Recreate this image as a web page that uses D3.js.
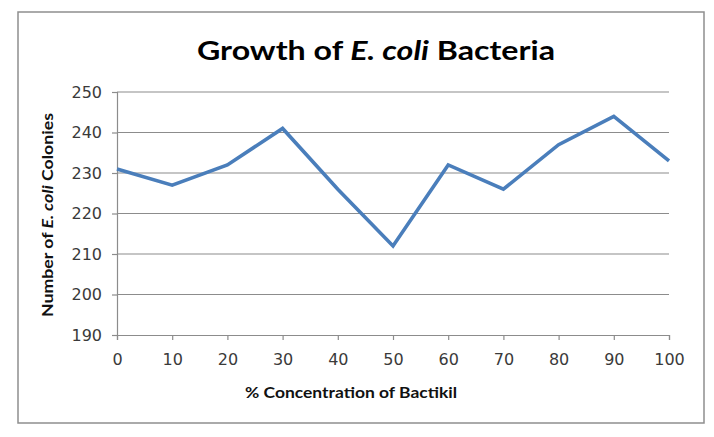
<!DOCTYPE html>
<html><head><meta charset="utf-8">
<script src="https://cdn.jsdelivr.net/npm/d3@7"></script>
<style>body{margin:0;background:#fff}svg{display:block}</style>
</head><body>
<svg id="c" width="714" height="437"></svg>
<script>
const concentrations = [0,10,20,30,40,50,60,70,80,90,100];
const colonies = [231,227,232,241,226,212,232,226,237,244,233];
const yTicks = [190,200,210,220,230,240,250];
const xTicks = [0,10,20,30,40,50,60,70,80,90,100];

const svg = d3.select("#c");
const W = 714, H = 437;
svg.append("rect").attr("x",0).attr("y",0).attr("width",W).attr("height",H).attr("fill","#fff");
svg.append("rect").attr("x",18).attr("y",12).attr("width",686).attr("height",411)
  .attr("fill","#fff").attr("stroke","#8e8e8e").attr("stroke-width",1.5);

const x = d3.scaleLinear().domain([0,100]).range([117,669]);
const y = d3.scaleLinear().domain([190,250]).range([335,92]);

// gridlines
svg.append("g").selectAll("line").data(yTicks.filter(d=>d>190)).join("line")
  .attr("x1",x(0)).attr("x2",x(100)).attr("y1",d=>y(d)).attr("y2",d=>y(d))
  .attr("stroke","#8c8c8c").attr("stroke-width",1.2);

const tickFont = "'DejaVu Sans', Verdana, sans-serif";
// y axis
const gy = svg.append("g").attr("transform",`translate(${x(0)},0)`)
  .call(d3.axisLeft(y).tickValues(yTicks).tickSize(5).tickPadding(10).tickFormat(d3.format("d")));
// x axis
const gx = svg.append("g").attr("transform",`translate(0,${y(190)})`)
  .call(d3.axisBottom(x).tickValues(xTicks).tickSize(5).tickPadding(14).tickFormat(d3.format("d")));
[gx,gy].forEach(g=>{
  g.select(".domain").attr("stroke","#8c8c8c").attr("stroke-width",1.2);
  g.selectAll(".tick line").attr("stroke","#8c8c8c").attr("stroke-width",1.2);
  g.selectAll(".tick text").attr("fill","#3a3a3a").style("font-family",tickFont).style("font-size","16px");
});

// line
const line = d3.line().x((d,i)=>x(concentrations[i])).y(d=>y(d));
svg.append("path").datum(colonies).attr("d",line).attr("fill","none")
  .attr("stroke","#4a7ebb").attr("stroke-width",3.6).attr("stroke-linejoin","miter");

const labFont = "Lato, 'Open Sans', sans-serif";
// title
const t = svg.append("text").attr("x",376).attr("y",60).attr("text-anchor","middle")
  .style("font-family",labFont).style("font-weight","bold").style("font-size","26px").attr("fill","#000")
  .attr("textLength",358).attr("lengthAdjust","spacingAndGlyphs");
t.append("tspan").text("Growth of ");
t.append("tspan").style("font-style","italic").text("E. coli");
t.append("tspan").text(" Bacteria");

// x title
svg.append("text").attr("x",351).attr("y",398).attr("text-anchor","middle")
  .style("font-family",labFont).style("font-weight","bold").style("font-size","15px").attr("fill","#111")
  .attr("textLength",212).attr("lengthAdjust","spacingAndGlyphs")
  .text("% Concentration of Bactikil");

// y title
const yt = svg.append("text").attr("transform","translate(53,215) rotate(-90)").attr("text-anchor","middle")
  .style("font-family",labFont).style("font-weight","bold").style("font-size","14.5px").attr("fill","#111")
  .attr("textLength",204).attr("lengthAdjust","spacingAndGlyphs");
yt.append("tspan").text("Number of ");
yt.append("tspan").style("font-style","italic").text("E. coli");
yt.append("tspan").text(" Colonies");
</script>
</body></html>
